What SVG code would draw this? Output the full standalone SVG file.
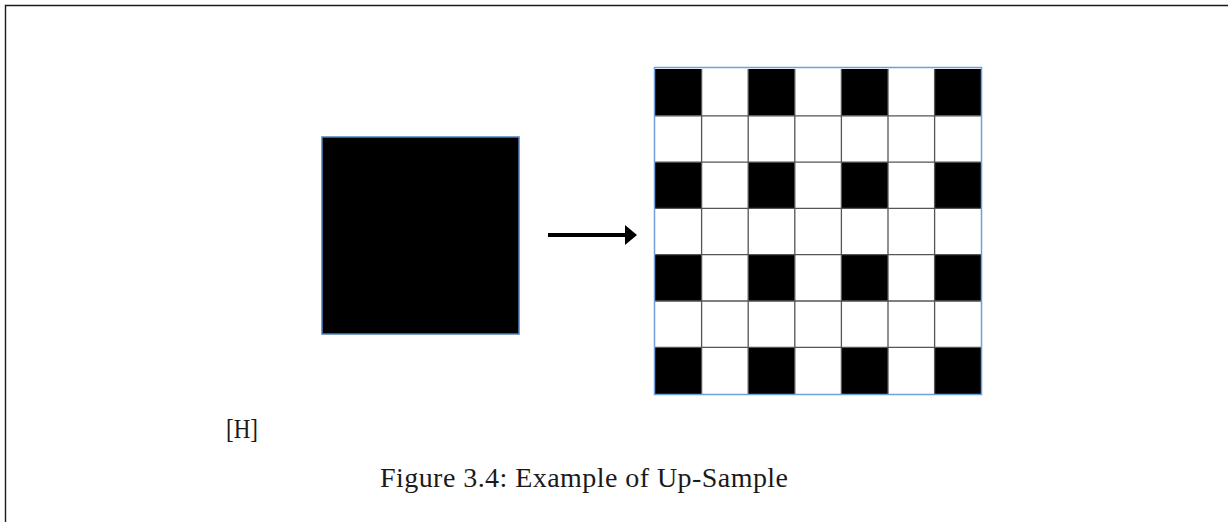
<svg xmlns="http://www.w3.org/2000/svg" width="1228" height="522" viewBox="0 0 1228 522">
<defs>
<style>
.frame{fill:none;stroke:#1a1a1a;stroke-width:1.4}
.blk{fill:#000}
.grid{stroke:#555;stroke-width:1.3;fill:none}
.outline{fill:none;stroke:#6f9fdc;stroke-width:1.5}
.txt{font-family:"Liberation Serif","DejaVu Serif",serif;fill:#1a1a1a}
</style>
</defs>
<rect width="1228" height="522" fill="#fff"/>
<path class="frame" d="M5.5,522 V5.5 H1228"/>
<g id="input">
<rect x="322" y="137" width="197" height="197" fill="#000" stroke="#4f81bd" stroke-width="1.5"/>
</g>
<g id="connectors">
<line x1="548" y1="235" x2="627" y2="235" stroke="#000" stroke-width="4"/>
<path d="M625,225 L637,235 L625,245 Z" fill="#000"/>
</g>
<g id="output">
<rect x="655" y="69" width="326.5" height="325" fill="#fff"/>
<rect class="blk" x="655" y="69" width="46.6" height="46.6"/>
<rect class="blk" x="748.2" y="69" width="46.6" height="46.6"/>
<rect class="blk" x="841.4" y="69" width="46.6" height="46.6"/>
<rect class="blk" x="934.6" y="69" width="46.6" height="46.6"/>
<rect class="blk" x="655" y="162.1" width="46.6" height="46.4"/>
<rect class="blk" x="748.2" y="162.1" width="46.6" height="46.4"/>
<rect class="blk" x="841.4" y="162.1" width="46.6" height="46.4"/>
<rect class="blk" x="934.6" y="162.1" width="46.6" height="46.4"/>
<rect class="blk" x="655" y="254.7" width="46.6" height="46.4"/>
<rect class="blk" x="748.2" y="254.7" width="46.6" height="46.4"/>
<rect class="blk" x="841.4" y="254.7" width="46.6" height="46.4"/>
<rect class="blk" x="934.6" y="254.7" width="46.6" height="46.4"/>
<rect class="blk" x="655" y="347.3" width="46.6" height="46.7"/>
<rect class="blk" x="748.2" y="347.3" width="46.6" height="46.7"/>
<rect class="blk" x="841.4" y="347.3" width="46.6" height="46.7"/>
<rect class="blk" x="934.6" y="347.3" width="46.6" height="46.7"/>
<path class="grid" d="M701.6,69 V394 M748.2,69 V394 M794.8,69 V394 M841.4,69 V394 M888,69 V394 M934.6,69 V394 M655,115.8 H981.2 M655,162.1 H981.2 M655,208.4 H981.2 M655,254.7 H981.2 M655,301 H981.2 M655,347.3 H981.2"/>
<rect class="outline" x="654.5" y="67.5" width="327" height="327"/>
</g>
<text class="txt" x="226" y="438" font-size="27" textLength="32" lengthAdjust="spacingAndGlyphs">[H]</text>
<text class="txt" x="380" y="487" font-size="28" textLength="408" lengthAdjust="spacing">Figure 3.4: Example of Up-Sample</text>
</svg>
